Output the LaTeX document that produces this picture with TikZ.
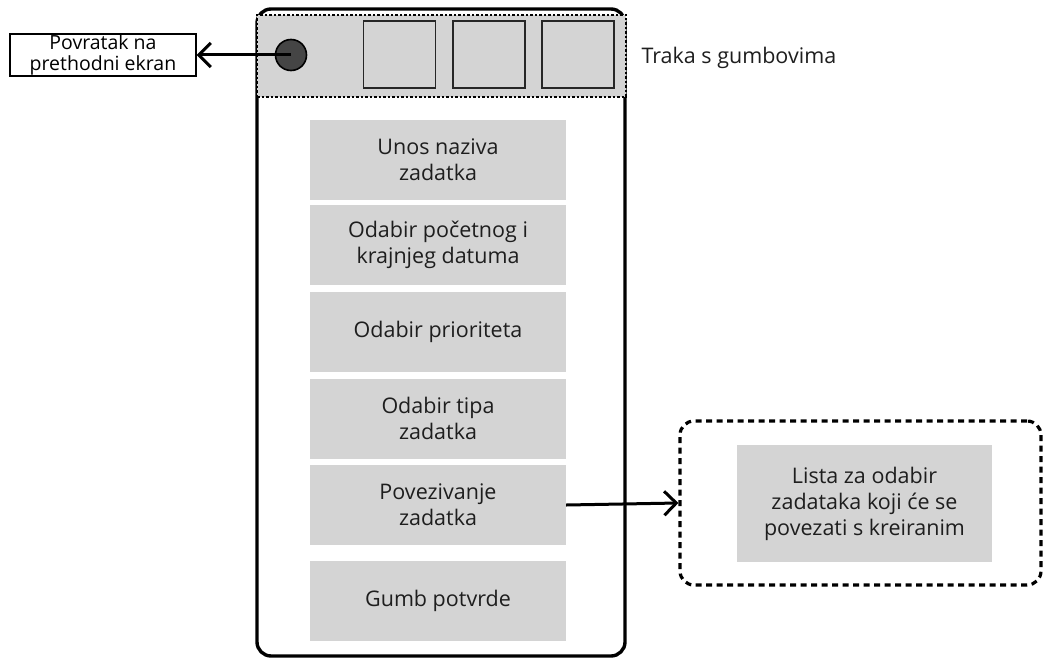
\documentclass[tikz,border=0pt]{standalone}
\usepackage{fontspec}
\setmainfont{Open Sans}
\usetikzlibrary{arrows.meta}

\definecolor{boxgray}{HTML}{D4D4D4}
\definecolor{knobgray}{HTML}{454545}
\definecolor{textgray}{HTML}{1E1E1E}

\tikzset{
    field/.style={fill=boxgray, text=textgray, minimum width=256pt, minimum height=80pt,
        inner sep=0pt, align=center, font=\fontsize{21.5}{26}\selectfont},
    iconbox/.style={draw=black!85, line width=1.8pt, minimum width=72pt, minimum height=67pt, inner sep=0pt},
    conn/.style={line width=3pt, -{Straight Barb[length=12pt, width=24pt, line width=3pt]}}
}

\begin{document}
\begin{tikzpicture}[x=1pt, y=-1pt]

            \useasboundingbox (0,0) rectangle (1043,658);

            \draw [line width=3.4pt, rounded corners=14pt] (257,9) rectangle (625,656);

            \node [draw, fill=boxgray, dash pattern=on 2.5pt off 2pt, line width=1.8pt,
                minimum width=369pt, minimum height=82pt, inner sep=0pt] (toolbar) at (441.5,56) {};

            \node [circle, draw, fill=knobgray, line width=1.6pt, minimum size=31pt, inner sep=0pt] (knob) at (291,55) {};

            \node [iconbox] (icon1) at (399.5,54.5) {};
            \node [iconbox] (icon2) at (489,54.5) {};
            \node [iconbox] (icon3) at (578,54.5) {};

            \node [anchor=west, text=textgray, font=\fontsize{21.5}{24}\selectfont] (barlabel) at (638,58) {Traka s gumbovima};

            \node [draw, fill=white, line width=1.4pt, minimum width=186pt, minimum height=42pt, inner sep=0pt,
                align=center, font=\fontsize{19.5}{21.5}\selectfont] (back) at (103,55) {Povratak na\\prethodni ekran};


            \node [field] (title) at (438,160) {Unos naziva\\zadatka};
            \node [field] (dates) at (438,245) {Odabir početnog i\\krajnjeg datuma};
            \node [field] (priority) at (438,332) {Odabir prioriteta};
            \node [field] (type) at (438,418.5) {Odabir tipa\\zadatka};
            \node [field] (link) at (438,505) {Povezivanje\\zadatka};
            \node [field] (confirm) at (438,601) {Gumb potvrde};


            \node [draw, dash pattern=on 6pt off 4.5pt, line width=3.2pt, rounded corners=14pt,
                minimum width=361pt, minimum height=164pt] (listframe) at (860.5,503) {};
            \node [field, minimum width=255pt, minimum height=117pt] (list) at (864.5,503.5)
                {Lista za odabir\\zadataka koji će se\\povezati s kreiranim};


            \draw [conn] (knob.center) -- (back.east);
            \draw [conn] (link.east) -- (listframe.west);

\end{tikzpicture}
\end{document}
